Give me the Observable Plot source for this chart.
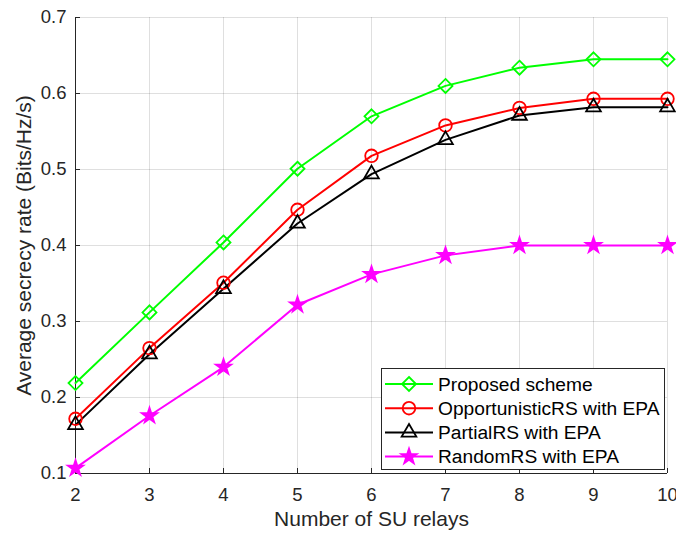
<!DOCTYPE html>
<html><head><meta charset="utf-8">
<script src="https://cdn.jsdelivr.net/npm/d3@7"></script>
<script src="https://cdn.jsdelivr.net/npm/@observablehq/plot@0.6"></script>
<style>
body{margin:0;background:#fff;}
#wrap{position:relative;width:676px;height:534px;font-family:"Liberation Sans",Arial,sans-serif;}
#legend{position:absolute;left:381px;top:368px;}
</style>
</head><body><div id="wrap"></div>
<script>
const relays = [2, 3, 4, 5, 6, 7, 8, 9, 10];
const proposed = [0.219, 0.312, 0.404, 0.501, 0.570, 0.610, 0.634, 0.645, 0.645];
const opportunistic = [0.172, 0.265, 0.351, 0.447, 0.518, 0.558, 0.581, 0.593, 0.593];
const partial = [0.164, 0.257, 0.343, 0.429, 0.494, 0.539, 0.571, 0.582, 0.582];
const randomRS = [0.107, 0.176, 0.240, 0.322, 0.362, 0.387, 0.400, 0.400, 0.400];
const seriesNames = ["Proposed scheme", "OpportunisticRS with EPA", "PartialRS with EPA", "RandomRS with EPA"];
const seriesValues = [proposed, opportunistic, partial, randomRS];
const colors = ["#00ff00", "#ff0000", "#000000", "#ff00ff"];
const symbolNames = ["diamond2", "circle", "triangle2", "star"];
const d3Symbols = [d3.symbolDiamond2, d3.symbolCircle, d3.symbolTriangle2, d3.symbolStar];
const markerR = [6.3, 6.3, 7, 4.8];
const markerFill = ["none", "none", "none", "#ff00ff"];
const xTicks = [2, 3, 4, 5, 6, 7, 8, 9, 10];
const yTicks = [0.1, 0.2, 0.3, 0.4, 0.5, 0.6, 0.7];
const xLabel = "Number of SU relays";
const yLabel = "Average secrecy rate (Bits/Hz/s)";

const rows = [];
seriesNames.forEach((s, i) => relays.forEach((x, j) => rows.push({x, y: seriesValues[i][j], series: s})));

const axisColor = "#262626";
const font = "'Liberation Sans', Arial, sans-serif";

const marks = [
  Plot.gridX(xTicks, {stroke: axisColor, strokeOpacity: 0.15}),
  Plot.gridY(yTicks, {stroke: axisColor, strokeOpacity: 0.15}),
  Plot.ruleY([yTicks[0]], {stroke: axisColor}),
  Plot.ruleX([xTicks[0]], {stroke: axisColor}),
  Plot.axisX(xTicks, {tickSize: -5, tickPadding: 19, color: axisColor, fontSize: 18.5, label: null, tickFormat: d3.format("d")}),
  Plot.axisY(yTicks, {tickSize: -5, tickPadding: 14, color: axisColor, fontSize: 18.5, label: null, tickFormat: d3.format(".1f")}),
  Plot.text([xLabel], {text: d => d, frameAnchor: "bottom", textAnchor: "middle", lineAnchor: "middle", dy: 46, fontSize: 21, fill: axisColor}),
  Plot.text([yLabel], {text: d => d, frameAnchor: "left", textAnchor: "middle", lineAnchor: "middle", rotate: -90, dx: -51, fontSize: 21, fill: axisColor}),
  Plot.line(rows, {x: "x", y: "y", z: "series", stroke: "series", strokeWidth: 2})
];
seriesNames.forEach((s, i) => {
  marks.push(Plot.dot(rows.filter(d => d.series === s), {
    x: "x", y: "y", symbol: () => symbolNames[i], r: markerR[i],
    stroke: colors[i], fill: markerFill[i], strokeWidth: 1.8
  }));
});

const chart = Plot.plot({
  width: 676, height: 534,
  marginLeft: 75, marginRight: 9, marginTop: 17, marginBottom: 61,
  style: {fontFamily: font, background: "#fff", overflow: "visible"},
  x: {domain: [2, 10], axis: null},
  y: {domain: [0.1, 0.7], axis: null},
  color: {domain: seriesNames, range: colors},
  symbol: {domain: symbolNames, range: symbolNames},
  marks
});
const wrap = document.getElementById("wrap");
wrap.appendChild(chart);

// Legend box inside the plot area
const lw = 284, lh = 102, rowH = 24.2, row0 = 16;
const leg = d3.create("svg").attr("id", "legend").attr("width", lw + 1).attr("height", lh + 1);
leg.append("rect").attr("x", 0.5).attr("y", 0.5).attr("width", lw - 1).attr("height", lh - 1)
  .attr("fill", "#fff").attr("stroke", axisColor).attr("stroke-width", 1);
seriesNames.forEach((s, i) => {
  const cy = row0 + i * rowH;
  const g = leg.append("g");
  g.append("line").attr("x1", 4).attr("x2", 52).attr("y1", cy).attr("y2", cy)
    .attr("stroke", colors[i]).attr("stroke-width", 2);
  g.append("path").attr("transform", `translate(28,${cy})`)
    .attr("d", d3.symbol(d3Symbols[i], Math.PI * markerR[i] * markerR[i])())
    .attr("fill", markerFill[i]).attr("stroke", colors[i]).attr("stroke-width", 1.8);
  g.append("text").attr("x", 57).attr("y", cy).attr("dy", "0.35em")
    .attr("font-family", font).attr("font-size", 19.2).attr("fill", "#000").text(s);
});
wrap.appendChild(leg.node());
</script>
</body></html>
